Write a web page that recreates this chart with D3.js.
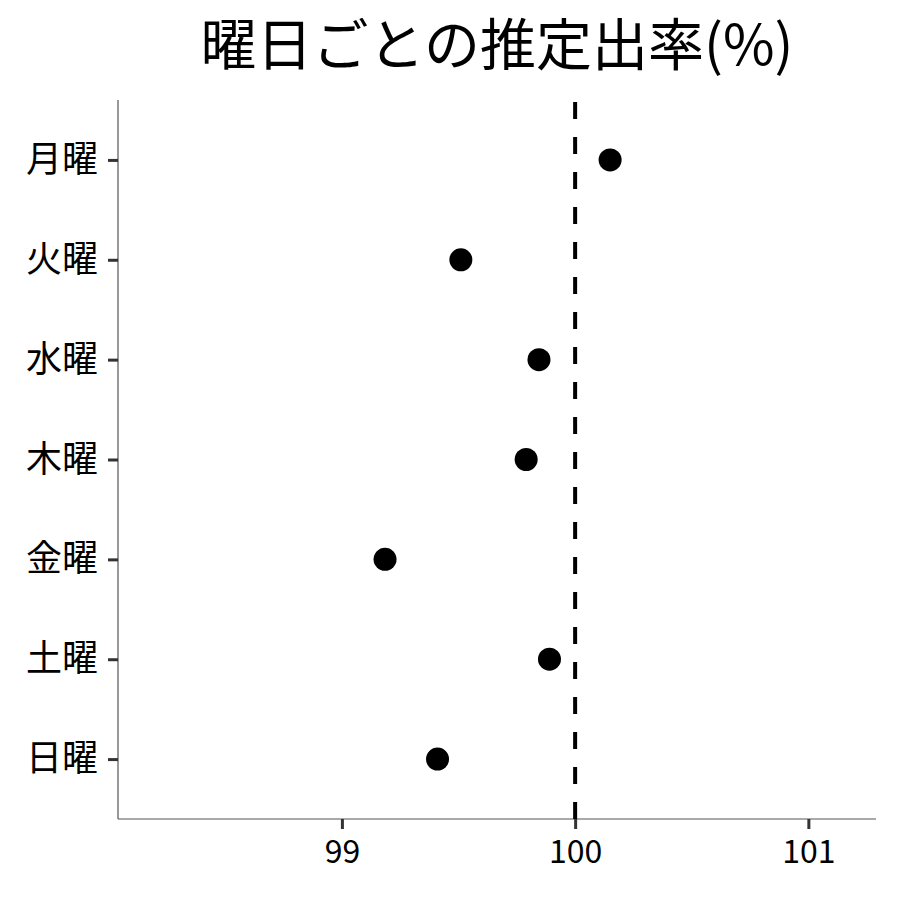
<!DOCTYPE html>
<html>
<head>
<meta charset="utf-8">
<script src="https://cdn.jsdelivr.net/npm/d3@7"></script>
<style>
body { margin: 0; background: #fff; }
text { font-family: "Noto Sans CJK JP", "Noto Sans", sans-serif; }
</style>
</head>
<body>
<div id="container"></div>
<script>
var days = ["月曜", "火曜", "水曜", "木曜", "金曜", "土曜", "日曜"];
var rates = [100.15, 99.51, 99.845, 99.79, 99.185, 99.89, 99.41];
var xTicks = [99, 100, 101];
var refValue = 100;
var title = "曜日ごとの推定出率(%)";

var width = 900, height = 900;
var mLeft = 118, mRight = 876, mTop = 100, mBottom = 819;

var svg = d3.select("#container").append("svg")
	.attr("width", width)
	.attr("height", height);

var x = d3.scaleLinear().domain([98.04, 101.29]).range([mLeft, mRight]);
var y = d3.scalePoint().domain(days).range([mTop, mBottom]).padding(0.6);

// title
svg.append("text")
	.attr("x", (mLeft + mRight) / 2)
	.attr("y", 65)
	.attr("text-anchor", "middle")
	.attr("font-size", 56)
	.attr("fill", "#000")
	.text(title);

// x axis
var xAxis = svg.append("g")
	.attr("transform", "translate(0," + mBottom + ")")
	.call(d3.axisBottom(x).tickValues(xTicks).tickSize(10).tickPadding(11).tickFormat(d3.format("d")));
xAxis.select(".domain").attr("stroke", "#555").attr("stroke-width", 1.2).attr("d", "M" + mLeft + ",0H" + mRight);
xAxis.selectAll(".tick line").attr("stroke", "#333").attr("stroke-width", 3);
xAxis.selectAll(".tick text").attr("font-size", 32).attr("fill", "#000")
	.attr("font-family", "'Noto Sans CJK JP', sans-serif");

// y axis
var yAxis = svg.append("g")
	.attr("transform", "translate(" + mLeft + ",0)")
	.call(d3.axisLeft(y).tickSize(10).tickPadding(10));
yAxis.select(".domain").attr("stroke", "#555").attr("stroke-width", 1.2).attr("d", "M0," + mTop + "V" + mBottom);
yAxis.selectAll(".tick line").attr("stroke", "#333").attr("stroke-width", 3);
yAxis.selectAll(".tick text").attr("font-size", 36).attr("fill", "#000")
	.attr("font-family", "'Noto Sans CJK JP', sans-serif");

// reference line
svg.append("line")
	.attr("x1", x(refValue)).attr("x2", x(refValue))
	.attr("y1", mBottom).attr("y2", mTop)
	.attr("stroke", "#000")
	.attr("stroke-width", 4)
	.attr("stroke-dasharray", "17,18");

// points
svg.selectAll("circle.pt").data(days).enter().append("circle")
	.attr("class", "pt")
	.attr("cx", function(d, i) { return x(rates[i]); })
	.attr("cy", function(d) { return y(d); })
	.attr("r", 11.5)
	.attr("fill", "#000");
</script>
</body>
</html>
